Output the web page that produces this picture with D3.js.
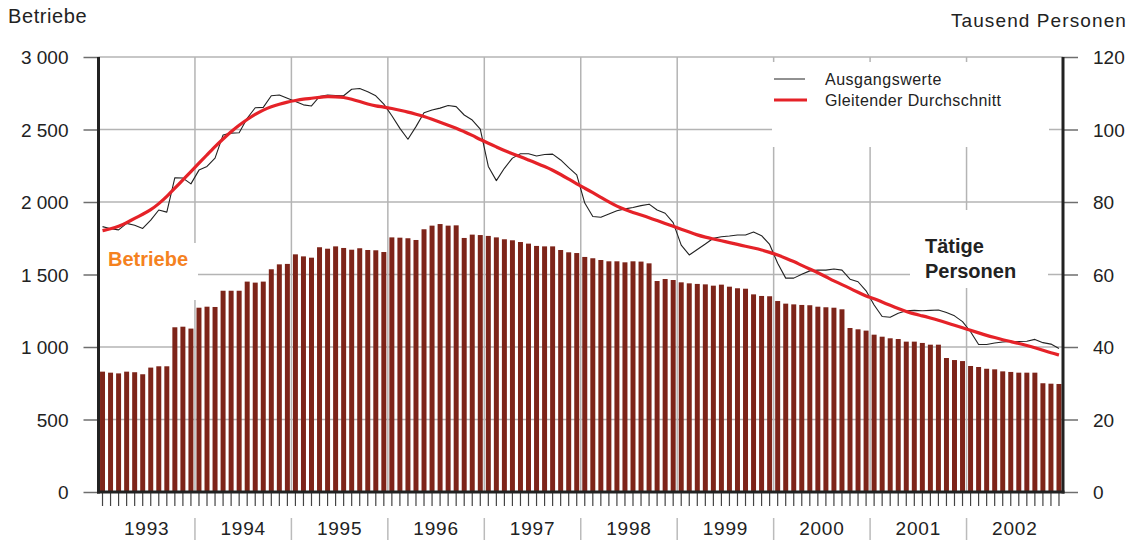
<!DOCTYPE html>
<html>
<head>
<meta charset="utf-8">
<script src="https://cdn.jsdelivr.net/npm/d3@7"></script>
<style>
  body { margin: 0; background: #fff; }
  svg { display: block; font-family: 'Liberation Sans', Arial, sans-serif; }
</style>
</head>
<body>
<svg width="1136" height="542"></svg>
<script>
let years = ['1993', '1994', '1995', '1996', '1997', '1998', '1999', '2000', '2001', '2002']

// Betriebe, monthly, Jan 1993 - Dec 2002
let betriebe = [
  830, 823, 818, 830, 826, 812, 858, 867, 867, 1136, 1140, 1127,
  1271, 1278, 1276, 1388, 1388, 1388, 1451, 1444, 1451, 1536, 1570, 1573,
  1639, 1625, 1616, 1688, 1678, 1694, 1683, 1671, 1681, 1669, 1667, 1655,
  1756, 1754, 1750, 1738, 1812, 1837, 1848, 1837, 1839, 1752, 1775, 1772,
  1766, 1756, 1743, 1736, 1724, 1713, 1697, 1694, 1694, 1669, 1653, 1648,
  1621, 1612, 1600, 1591, 1591, 1584, 1591, 1589, 1577, 1455, 1469, 1462,
  1446, 1439, 1435, 1432, 1423, 1430, 1416, 1405, 1402, 1363, 1352, 1350,
  1317, 1299, 1294, 1290, 1288, 1278, 1274, 1271, 1260, 1131, 1122, 1113,
  1085, 1071, 1060, 1055, 1037, 1037, 1028, 1016, 1016, 924, 910, 903,
  869, 862, 850, 846, 832, 828, 823, 823, 823, 750, 747, 745
]

// Tätige Personen (Tausend), Ausgangswerte
let ausgangswerte = [
  73.2, 72.6, 72.3, 74.1, 73.6, 72.7, 75.0, 77.8, 77.2, 86.7, 86.6, 85.0,
  88.8, 89.8, 92.1, 98.5, 99.0, 99.1, 103.1, 106.0, 106.1, 109.3, 109.5, 108.6,
  107.7, 106.8, 106.5, 109.1, 109.5, 109.4, 109.3, 111.1, 111.3, 110.4, 109.3, 107.0,
  103.8, 100.3, 97.3, 100.8, 104.6, 105.4, 105.9, 106.6, 106.3, 104.0, 102.6, 100.1,
  89.8, 85.9, 89.3, 92.1, 93.3, 93.3, 92.7, 93.1, 93.2, 91.6, 89.5, 87.5,
  79.7, 76.0, 75.8, 76.7, 77.6, 78.1, 78.5, 79.0, 79.4, 77.8, 76.9, 74.3,
  68.1, 65.4, 66.9, 68.4, 70.0, 70.4, 70.6, 70.9, 70.9, 71.7, 70.7, 68.3,
  63.1, 59.0, 59.0, 60.1, 61.0, 61.2, 61.2, 61.5, 61.2, 58.7, 58.0, 55.5,
  51.6, 48.4, 48.2, 49.3, 50.0, 50.1, 50.0, 50.1, 50.2, 49.5, 48.6, 47.0,
  44.2, 40.7, 40.7, 41.1, 41.4, 41.5, 41.5, 41.6, 42.1, 41.2, 40.8, 39.6
]

// Tätige Personen (Tausend), gleitender Durchschnitt
let durchschnitt = [
  72.1, 72.6, 73.2, 74.3, 75.5, 76.6, 77.8, 79.5, 81.5, 83.8, 86.1, 88.4,
  90.7, 93.0, 95.3, 97.4, 99.4, 101.2, 102.8, 104.2, 105.4, 106.3, 107.0, 107.6,
  108.0, 108.4, 108.6, 108.9, 109.1, 109.0, 108.9, 108.4, 107.7, 107.0, 106.5, 106.2,
  105.8, 105.3, 104.8, 104.2, 103.6, 102.8, 102.0, 101.2, 100.4, 99.4, 98.4, 97.2,
  96.2, 95.2, 94.2, 93.3, 92.5, 91.6, 90.7, 89.8, 88.8, 87.6, 86.3, 85.0,
  83.8, 82.6, 81.3, 80.0, 78.8, 77.9, 77.1, 76.4, 75.7, 74.9, 74.1, 73.3,
  72.5, 71.7, 70.9, 70.3, 69.8, 69.3, 68.8, 68.3, 67.8, 67.3, 66.8, 66.1,
  65.4, 64.5, 63.6, 62.5, 61.5, 60.5, 59.4, 58.2, 57.2, 56.2, 55.1, 54.0,
  53.4, 52.4, 51.5, 50.6, 49.8, 49.1, 48.6, 48.0, 47.4, 46.7, 46.0, 45.3,
  44.6, 43.9, 43.2, 42.6, 42.0, 41.5, 41.0, 40.4, 39.8, 39.1, 38.4, 37.8
]

let leftTicks = [0, 500, 1000, 1500, 2000, 2500, 3000]
let rightTicks = [0, 20, 40, 60, 80, 100, 120]

let plotLeft = 98.5
let plotRight = 1063
let plotTop = 57
let plotBottom = 492

let svg = d3.select('svg')

let xScale = d3.scaleBand()
                .domain(d3.range(betriebe.length))
                .range([plotLeft, plotRight])
                .paddingInner(0.38)
                .paddingOuter(0.19)

let step = xScale.step()
let mid = i => xScale(i) + xScale.bandwidth() / 2

let yLeft = d3.scaleLinear()
                .domain([0, 3000])
                .range([plotBottom, plotTop])

let yRight = d3.scaleLinear()
                .domain([0, 120])
                .range([plotBottom, plotTop])

let de = d3.formatLocale({ decimal: ',', thousands: ' ', grouping: [3], currency: ['', ' €'] })
let fmt = de.format(',')

// gridlines
svg.append('g')
  .selectAll('line')
  .data(leftTicks.slice(1))
  .enter()
  .append('line')
    .attr('x1', plotLeft)
    .attr('x2', plotRight)
    .attr('y1', d => yLeft(d))
    .attr('y2', d => yLeft(d))
    .attr('stroke', '#b4b4b4')
    .attr('stroke-width', 1.5)

svg.append('g')
  .selectAll('line')
  .data(d3.range(1, years.length))
  .enter()
  .append('line')
    .attr('x1', d => plotLeft + step * 12 * d)
    .attr('x2', d => plotLeft + step * 12 * d)
    .attr('y1', plotTop)
    .attr('y2', plotBottom)
    .attr('stroke', '#b4b4b4')
    .attr('stroke-width', 1.5)

// white boxes behind labels
let boxes = [
  [772, 62, 277, 85],
  [100, 243, 98, 57],
  [910, 210, 138, 78]
]
svg.append('g')
  .selectAll('rect')
  .data(boxes)
  .enter()
  .append('rect')
    .attr('x', d => d[0])
    .attr('y', d => d[1])
    .attr('width', d => d[2])
    .attr('height', d => d[3])
    .attr('fill', '#fff')

// bars
svg.append('g')
  .selectAll('rect')
  .data(betriebe)
  .enter()
  .append('rect')
    .attr('x', (d, i) => xScale(i))
    .attr('y', d => yLeft(d))
    .attr('width', xScale.bandwidth())
    .attr('height', d => plotBottom - yLeft(d))
    .attr('fill', '#7d2419')

// lines
let rawLine = d3.line()
              .x((d, i) => mid(i))
              .y(d => yRight(d))

let smoothLine = d3.line()
              .x((d, i) => mid(i))
              .y(d => yRight(d))
              .curve(d3.curveBasis)

svg.append('path')
    .datum(ausgangswerte)
    .attr('d', rawLine)
    .attr('fill', 'none')
    .attr('stroke', '#222')
    .attr('stroke-width', 1.1)
    .attr('stroke-linejoin', 'round')

svg.append('path')
    .datum(durchschnitt)
    .attr('d', smoothLine)
    .attr('fill', 'none')
    .attr('stroke', '#e52228')
    .attr('stroke-width', 3.2)

// axes
let leftAxis = d3.axisLeft(yLeft)
                  .tickValues(leftTicks)
                  .tickFormat(fmt)
                  .tickSize(15)
                  .tickPadding(15)

let rightAxis = d3.axisRight(yRight)
                  .tickValues(rightTicks)
                  .tickSize(15)
                  .tickPadding(15)

svg.append('g')
    .attr('transform', `translate(${plotLeft}, 0)`)
    .call(leftAxis)
    .call(g => g.select('.domain').remove())
    .call(g => g.selectAll('line').attr('stroke', '#6e6e6e').attr('stroke-width', 1.5))
    .call(g => g.selectAll('text').attr('fill', '#222').style('font-size', '19px').attr('dy', '0.36em'))

svg.append('g')
    .attr('transform', `translate(${plotRight}, 0)`)
    .call(rightAxis)
    .call(g => g.select('.domain').remove())
    .call(g => g.selectAll('line').attr('stroke', '#6e6e6e').attr('stroke-width', 1.5))
    .call(g => g.selectAll('text').attr('fill', '#222').style('font-size', '19px').attr('dy', '0.36em'))

// month ticks
svg.append('g')
  .selectAll('line')
  .data(betriebe)
  .enter()
  .append('line')
    .attr('x1', (d, i) => mid(i))
    .attr('x2', (d, i) => mid(i))
    .attr('y1', plotBottom)
    .attr('y2', plotBottom + 14)
    .attr('stroke', '#444')
    .attr('stroke-width', 1.2)

// frame lines
svg.append('line')
    .attr('x1', plotLeft).attr('x2', plotLeft)
    .attr('y1', plotTop).attr('y2', plotBottom + 1.5)
    .attr('stroke', '#222').attr('stroke-width', 3)

svg.append('line')
    .attr('x1', plotRight).attr('x2', plotRight)
    .attr('y1', plotTop).attr('y2', plotBottom + 1.5)
    .attr('stroke', '#222').attr('stroke-width', 3)

svg.append('line')
    .attr('x1', plotLeft - 1.5).attr('x2', plotRight + 1.5)
    .attr('y1', plotBottom).attr('y2', plotBottom)
    .attr('stroke', '#222').attr('stroke-width', 3)

// year labels and separators
svg.append('g')
  .selectAll('text')
  .data(years)
  .enter()
  .append('text')
    .attr('x', (d, i) => plotLeft + step * 12 * (i + 0.5))
    .attr('y', 535)
    .attr('text-anchor', 'middle')
    .attr('fill', '#222')
    .style('font-size', '19px')
    .style('letter-spacing', '0.8px')
    .text(d => d)

svg.append('g')
  .selectAll('line')
  .data(d3.range(1, years.length))
  .enter()
  .append('line')
    .attr('x1', d => plotLeft + step * 12 * d)
    .attr('x2', d => plotLeft + step * 12 * d)
    .attr('y1', 518)
    .attr('y2', 540)
    .attr('stroke', '#bbb')
    .attr('stroke-width', 1.5)

// axis titles
svg.append('text')
    .attr('x', 8)
    .attr('y', 23)
    .attr('fill', '#222')
    .style('font-size', '20px')
    .style('letter-spacing', '0.6px')
    .text('Betriebe')

svg.append('text')
    .attr('x', 1127)
    .attr('y', 27)
    .attr('text-anchor', 'end')
    .attr('fill', '#222')
    .style('font-size', '19px')
    .style('letter-spacing', '1.1px')
    .text('Tausend Personen')

// series labels
svg.append('text')
    .attr('x', 108)
    .attr('y', 266)
    .attr('fill', '#f5821f')
    .style('font-size', '20px')
    .style('font-weight', 'bold')
    .text('Betriebe')

svg.append('text')
    .attr('x', 925)
    .attr('y', 253)
    .attr('fill', '#222')
    .style('font-size', '20px')
    .style('font-weight', 'bold')
    .text('Tätige')

svg.append('text')
    .attr('x', 925)
    .attr('y', 278)
    .attr('fill', '#222')
    .style('font-size', '20px')
    .style('font-weight', 'bold')
    .text('Personen')

// legend
let legend = svg.append('g')

legend.append('line')
    .attr('x1', 774).attr('x2', 805)
    .attr('y1', 79).attr('y2', 79)
    .attr('stroke', '#222').attr('stroke-width', 1)

legend.append('line')
    .attr('x1', 774).attr('x2', 807)
    .attr('y1', 100).attr('y2', 100)
    .attr('stroke', '#e52228').attr('stroke-width', 3.2)

legend.append('text')
    .attr('x', 825)
    .attr('y', 85)
    .attr('fill', '#222')
    .style('font-size', '16px')
    .style('letter-spacing', '0.5px')
    .text('Ausgangswerte')

legend.append('text')
    .attr('x', 825)
    .attr('y', 106)
    .attr('fill', '#222')
    .style('font-size', '16px')
    .style('letter-spacing', '0.4px')
    .text('Gleitender Durchschnitt')
</script>
</body>
</html>
